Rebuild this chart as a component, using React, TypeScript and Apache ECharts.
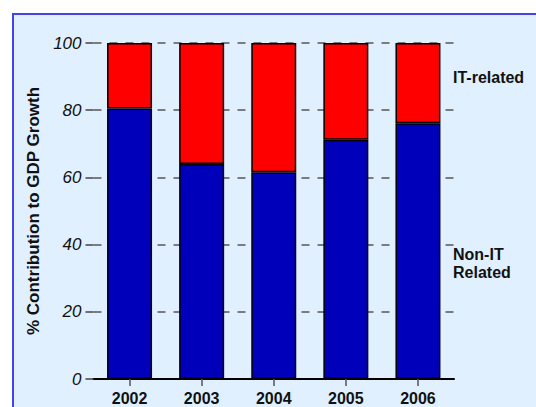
import React, { useEffect, useRef } from "react";
import * as echarts from "echarts";

const years = ["2002", "2003", "2004", "2005", "2006"];
const nonIT = [80.5, 64.0, 61.5, 71.2, 76.1];
const itRelated = [19.5, 36.0, 38.5, 28.8, 23.9];
const yTicks = [0, 20, 40, 60, 80, 100];

const FONT = "Liberation Sans, Arial, Helvetica, sans-serif";

export default function App() {
  const ref = useRef<HTMLDivElement>(null);
  useEffect(() => {
    if (!ref.current) return;
    const chart = echarts.init(ref.current, undefined, { renderer: "svg" });
    chart.setOption({
      animation: false,
      backgroundColor: "#ffffff",
      graphic: [
        {
          type: "rect",
          z: -10,
          silent: true,
          shape: { x: 13, y: 14, width: 540, height: 410 },
          style: { fill: "#E0F0FF", stroke: "#4444EE", lineWidth: 2 },
        },
        {
          type: "text",
          x: 453,
          y: 77,
          style: {
            text: "IT-related",
            font: `bold 16px ${FONT}`,
            fill: "#111",
            verticalAlign: "middle",
          },
        },
        {
          type: "text",
          x: 453,
          y: 263,
          style: {
            text: "Non-IT\nRelated",
            font: `bold 16px ${FONT}`,
            lineHeight: 18,
            fill: "#111",
            verticalAlign: "middle",
          },
        },
      ],
      grid: { left: 93.5, right: 82, top: 43, bottom: 28, containLabel: false },
      xAxis: {
        type: "category",
        data: years,
        axisLine: { show: true, lineStyle: { color: "#000", width: 2 } },
        axisTick: { show: true, alignWithLabel: true, length: 7, lineStyle: { color: "#555", width: 1.5 } },
        axisLabel: { color: "#111", fontWeight: "bold", fontSize: 16, fontFamily: FONT, margin: 11 },
      },
      yAxis: {
        type: "value",
        min: yTicks[0],
        max: yTicks[yTicks.length - 1],
        interval: 20,
        name: "% Contribution to GDP Growth",
        nameLocation: "middle",
        nameGap: 48,
        nameTextStyle: { color: "#111", fontWeight: "bold", fontSize: 17, fontFamily: FONT },
        axisLine: { show: false },
        axisTick: { show: true, length: 8, lineStyle: { color: "#444", width: 1.5 } },
        axisLabel: { color: "#111", fontStyle: "italic", fontSize: 17, fontFamily: FONT, margin: 12 },
        splitLine: { show: true, lineStyle: { color: "#555", width: 1.5, type: [8, 8] } },
      },
      series: [
        {
          name: "Non-IT Related",
          type: "bar",
          stack: "total",
          barWidth: 45,
          data: nonIT,
          itemStyle: { color: "#0000BB", borderColor: "#000", borderWidth: 1.5 },
        },
        {
          name: "IT-related",
          type: "bar",
          stack: "total",
          barWidth: 45,
          data: itRelated,
          itemStyle: { color: "#FF0000", borderColor: "#000", borderWidth: 1.5 },
        },
      ],
    });
    return () => chart.dispose();
  }, []);
  return (
    <div
      ref={ref}
      style={{ position: "fixed", left: 0, top: 0, width: 536, height: 407 }}
    />
  );
}
